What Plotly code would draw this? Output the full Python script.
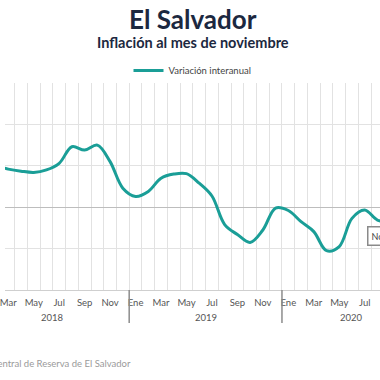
import plotly.graph_objects as go

# ---- data ----
months = ["Ene", "Feb", "Mar", "Abr", "May", "Jun", "Jul", "Ago", "Sep", "Oct", "Nov", "Dic"]
years = ["2018", "2019", "2020"]
values_2018 = [1.05, 1.00, 0.92, 0.87, 0.84, 0.90, 1.06, 1.46, 1.38, 1.50, 1.10, 0.46]
values_2019 = [0.26, 0.38, 0.70, 0.80, 0.81, 0.58, 0.27, -0.42, -0.66, -0.85, -0.55, -0.02]
values_2020 = [-0.08, -0.35, -0.59, -1.05, -0.95, -0.27, -0.07, -0.31, -0.35, -0.25, -0.15]
tick_months = ["Ene", "Mar", "May", "Jul", "Sep", "Nov"]
series_name = "Variación interanual"
title_text = "El Salvador"
subtitle_text = "Inflación al mes de noviembre"
source_text = "Fuente: Banco Central de Reserva de El Salvador"
last_label = "Nov 2020: -0.15%"

yearly = [values_2018, values_2019, values_2020]
values = [v for yv in yearly for v in yv]
x = list(range(len(values)))
hover = [f"{months[i % 12]} {years[i // 12]}" for i in x]

tickvals, ticktext = [], []
for yi in range(len(years)):
    for m in tick_months:
        k = 12 * yi + months.index(m)
        if k < len(values):
            tickvals.append(k)
            ticktext.append(m)

boundaries = [k - 0.5 for k in range(len(values) + 1)]

W, H = 380, 380
PT, PB = 82.5, 290.0
ph = PB - PT

def py(pix):
    return (PB - pix) / ph

fig = go.Figure()
fig.add_trace(go.Scatter(
    x=x, y=values, mode="lines", name=series_name, text=hover,
    line=dict(color="#1a9e97", width=3, shape="spline", smoothing=1),
    showlegend=True,
))

font_family = "Lato, 'DejaVu Sans', sans-serif"

annotations = [
    dict(text=f"<b>{title_text}</b>", x=0.5, y=py(18), xref="paper", yref="paper",
         showarrow=False, font=dict(size=26, color="#1c2840", family=font_family),
         xanchor="center", yanchor="middle"),
    dict(text=f"<b>{subtitle_text}</b>", x=0.5, y=py(42), xref="paper", yref="paper",
         showarrow=False, font=dict(size=14.5, color="#1c2840", family=font_family),
         xanchor="center", yanchor="middle"),
    dict(text=source_text, x=129.5 / W, y=py(363.5), xref="paper", yref="paper",
         showarrow=False, font=dict(size=9.5, color="#9a9a9a", family=font_family),
         xanchor="right", yanchor="middle"),
    dict(text=last_label, x=367 / W, y=py(236), xref="paper", yref="paper",
         showarrow=False, font=dict(size=9, color="#444", family=font_family),
         xanchor="left", yanchor="middle", bordercolor="#8a8a8a", borderwidth=1.5,
         borderpad=3, bgcolor="white"),
]
shapes = []
for yi, yr in enumerate(years):
    start = 12 * yi - 0.5
    end = min(12 * (yi + 1), len(values)) - 0.5
    annotations.append(dict(text=yr, x=(start + end) / 2, y=py(318), xref="x", yref="paper",
                            showarrow=False, font=dict(size=9.5, color="#555", family=font_family),
                            xanchor="center", yanchor="middle"))
    if yi > 0:
        shapes.append(dict(type="line", x0=start, x1=start, y0=0, y1=py(323),
                           xref="x", yref="paper", line=dict(color="#8c8c8c", width=1.5)))

px_per = 12.9
k_center_ene19 = 12
x0 = k_center_ene19 + (0 - 132.3) / px_per
x1 = k_center_ene19 + (W - 132.3) / px_per

fig.update_layout(
    width=W, height=H,
    margin=dict(l=0, r=0, t=PT, b=H - PB, pad=0),
    paper_bgcolor="white", plot_bgcolor="white",
    font=dict(family=font_family, color="#555"),
    showlegend=True,
    legend=dict(orientation="h", x=0.5, xanchor="center", y=py(70), yanchor="middle",
                font=dict(size=9.5, color="#444", family=font_family),
                bgcolor="rgba(0,0,0,0)", itemwidth=30),
    xaxis=dict(range=[x0, x1], tickmode="array", tickvals=tickvals, ticktext=ticktext,
               showgrid=False, showline=True, linecolor="#cfcfcf", linewidth=1,
               ticks="outside", ticklen=4, tickcolor="rgba(0,0,0,0)",
               ticklabeloverflow="allow",
               tickfont=dict(size=9.5, color="#555", family=font_family),
               minor=dict(tickmode="array", tickvals=boundaries, showgrid=True,
                          gridcolor="#e2e2e2", gridwidth=1, ticks=""),
               zeroline=False, fixedrange=True),
    yaxis=dict(range=[-2, 3], tickmode="linear", tick0=0, dtick=1, showgrid=True,
               gridcolor="#e2e2e2", gridwidth=1, zeroline=True, zerolinecolor="#bdbdbd",
               zerolinewidth=1, showticklabels=False, showline=False, fixedrange=True),
    annotations=annotations,
    shapes=shapes,
)

fig.write_html(
    "out.html",
    config={"displayModeBar": False},
    post_script="document.body.style.margin='0';document.body.style.overflow='hidden';",
)
